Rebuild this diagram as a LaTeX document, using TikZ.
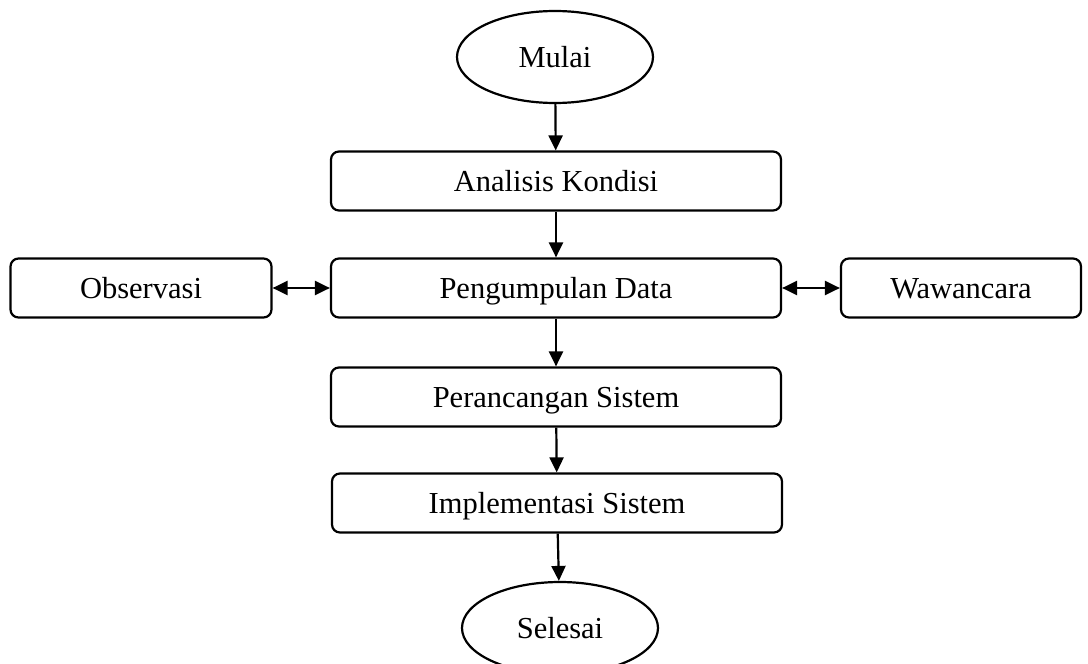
\documentclass[tikz,border=0pt]{standalone}
\usepackage{fontspec}
\setmainfont{Liberation Serif}
\usetikzlibrary{arrows.meta}
\usetikzlibrary{shapes.geometric}
\tikzset{
  kotak/.style={draw, line width=2.2pt, rounded corners=8pt, minimum width=450pt, minimum height=59pt, inner sep=0pt, text height=20pt, text depth=0pt},
  lonjong/.style={draw, ellipse, line width=2.2pt, minimum width=196pt, minimum height=92pt, inner sep=0pt, text height=20pt, text depth=0pt},
  >={Triangle[length=15pt,width=14pt]}
}

\begin{document}
\begin{tikzpicture}[x=1pt,y=-1pt,font=\fontsize{30.5}{36}\selectfont]
\useasboundingbox (0,0) rectangle (1088,664);
\node[lonjong] (mulai) at (555,57) {Mulai};
\node[kotak] (analisis) at (556,181) {Analisis Kondisi};
\node[kotak] (pengumpulan) at (556,288) {Pengumpulan Data};
\node[kotak, minimum width=261pt] (observasi) at (141,288) {Observasi};
\node[kotak, minimum width=240pt] (wawancara) at (961,288) {Wawancara};
\node[kotak] (perancangan) at (556,397) {Perancangan Sistem};
\node[kotak] (implementasi) at (557,503) {Implementasi Sistem};
\node[lonjong] (selesai) at (560,628) {Selesai};
% alur utama
\draw[->, line width=2.2pt] (mulai) -- (analisis);
\draw[->, line width=2.2pt] (analisis) -- (pengumpulan);
\draw[->, line width=2.2pt] (pengumpulan) -- (perancangan);
\draw[->, line width=2.2pt] (perancangan) -- (implementasi);
\draw[->, line width=2.2pt] (implementasi) -- (selesai);
% dua arah
\draw[<->, line width=2.2pt] (observasi) -- (pengumpulan);
\draw[<->, line width=2.2pt] (pengumpulan) -- (wawancara);
\end{tikzpicture}
\end{document}
